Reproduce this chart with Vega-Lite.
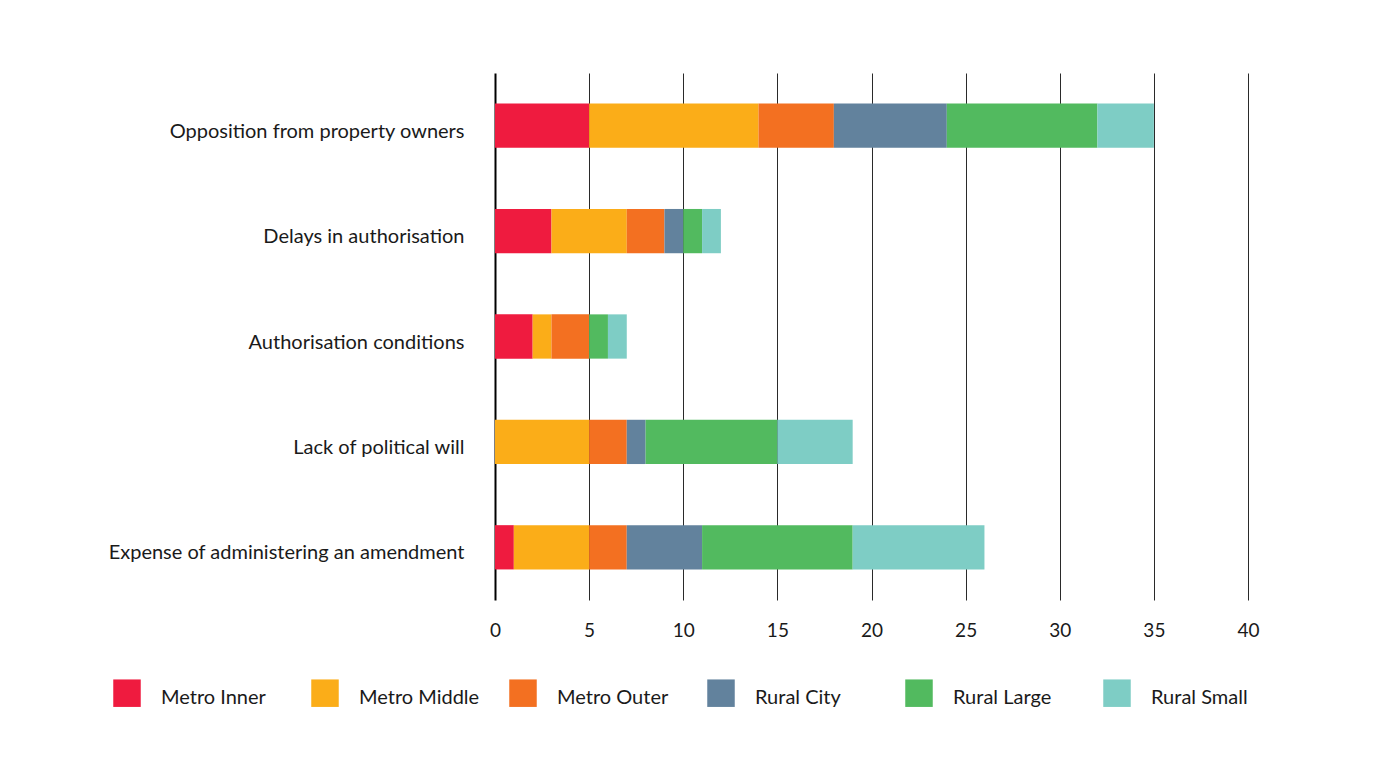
{
  "$schema": "https://vega.github.io/schema/vega-lite/v6.json",
  "autosize": {"type": "none"},
  "padding": {"left": 495, "top": 73, "right": 125, "bottom": 158},
  "width": 753,
  "height": 527,
  "background": "white",
  "config": {
    "view": {"stroke": null},
    "font": "Lato",
    "axis": {"labelFont": "Lato", "labelColor": "#1a1a1a"},
    "legend": {"labelFont": "Lato"}
  },
  "data": {
    "values": [
      {"issue": "Opposition from property owners", "region": "Metro Inner", "count": 5},
      {"issue": "Opposition from property owners", "region": "Metro Middle", "count": 9},
      {"issue": "Opposition from property owners", "region": "Metro Outer", "count": 4},
      {"issue": "Opposition from property owners", "region": "Rural City", "count": 6},
      {"issue": "Opposition from property owners", "region": "Rural Large", "count": 8},
      {"issue": "Opposition from property owners", "region": "Rural Small", "count": 3},
      {"issue": "Delays in authorisation", "region": "Metro Inner", "count": 3},
      {"issue": "Delays in authorisation", "region": "Metro Middle", "count": 4},
      {"issue": "Delays in authorisation", "region": "Metro Outer", "count": 2},
      {"issue": "Delays in authorisation", "region": "Rural City", "count": 1},
      {"issue": "Delays in authorisation", "region": "Rural Large", "count": 1},
      {"issue": "Delays in authorisation", "region": "Rural Small", "count": 1},
      {"issue": "Authorisation conditions", "region": "Metro Inner", "count": 2},
      {"issue": "Authorisation conditions", "region": "Metro Middle", "count": 1},
      {"issue": "Authorisation conditions", "region": "Metro Outer", "count": 2},
      {"issue": "Authorisation conditions", "region": "Rural City", "count": 0},
      {"issue": "Authorisation conditions", "region": "Rural Large", "count": 1},
      {"issue": "Authorisation conditions", "region": "Rural Small", "count": 1},
      {"issue": "Lack of political will", "region": "Metro Inner", "count": 0},
      {"issue": "Lack of political will", "region": "Metro Middle", "count": 5},
      {"issue": "Lack of political will", "region": "Metro Outer", "count": 2},
      {"issue": "Lack of political will", "region": "Rural City", "count": 1},
      {"issue": "Lack of political will", "region": "Rural Large", "count": 7},
      {"issue": "Lack of political will", "region": "Rural Small", "count": 4},
      {"issue": "Expense of administering an amendment", "region": "Metro Inner", "count": 1},
      {"issue": "Expense of administering an amendment", "region": "Metro Middle", "count": 4},
      {"issue": "Expense of administering an amendment", "region": "Metro Outer", "count": 2},
      {"issue": "Expense of administering an amendment", "region": "Rural City", "count": 4},
      {"issue": "Expense of administering an amendment", "region": "Rural Large", "count": 8},
      {"issue": "Expense of administering an amendment", "region": "Rural Small", "count": 7}
    ]
  },
  "mark": {"type": "bar", "stroke": null},
  "encoding": {
    "y": {
      "field": "issue",
      "type": "nominal",
      "sort": null,
      "title": null,
      "scale": {"paddingInner": 0.58, "paddingOuter": 0.29},
      "axis": {
        "domain": false,
        "ticks": false,
        "labelFontSize": 20,
        "labelPadding": 31,
        "labelOffset": 6,
        "labelLimit": 500
      }
    },
    "x": {
      "field": "count",
      "type": "quantitative",
      "stack": "zero",
      "title": null,
      "scale": {"domain": [0, 40], "nice": false},
      "axis": {
        "values": [0, 5, 10, 15, 20, 25, 30, 35, 40],
        "domain": false,
        "ticks": false,
        "grid": true,
        "gridColor": {"condition": {"test": "datum.value === 0", "value": "#000000"}, "value": "#2a2a2a"},
        "gridWidth": {"condition": {"test": "datum.value === 0", "value": 2}, "value": 1},
        "labelFontSize": 19,
        "labelPadding": 21,
        "labelFlush": false
      }
    },
    "color": {
      "field": "region",
      "type": "nominal",
      "title": null,
      "scale": {
        "domain": ["Metro Inner", "Metro Middle", "Metro Outer", "Rural City", "Rural Large", "Rural Small"],
        "range": ["#EF1B3F", "#FBAD18", "#F37021", "#62829D", "#52BA5F", "#7ECDC5"]
      },
      "legend": {
        "orient": "none",
        "legendX": -382,
        "legendY": 611,
        "direction": "horizontal",
        "columns": 6,
        "gridAlign": "all",
        "padding": 0,
        "symbolType": "M-1,-1.35H1V0.65H-1Z",
        "symbolSize": 756,
        "symbolStrokeWidth": 0,
        "symbolOpacity": 1,
        "labelFontSize": 20,
        "labelColor": "#1a1a1a",
        "labelOffset": 20,
        "columnPadding": 29,
        "labelLimit": 300
      }
    },
    "order": {"field": "region", "sort": "ascending"}
  }
}
